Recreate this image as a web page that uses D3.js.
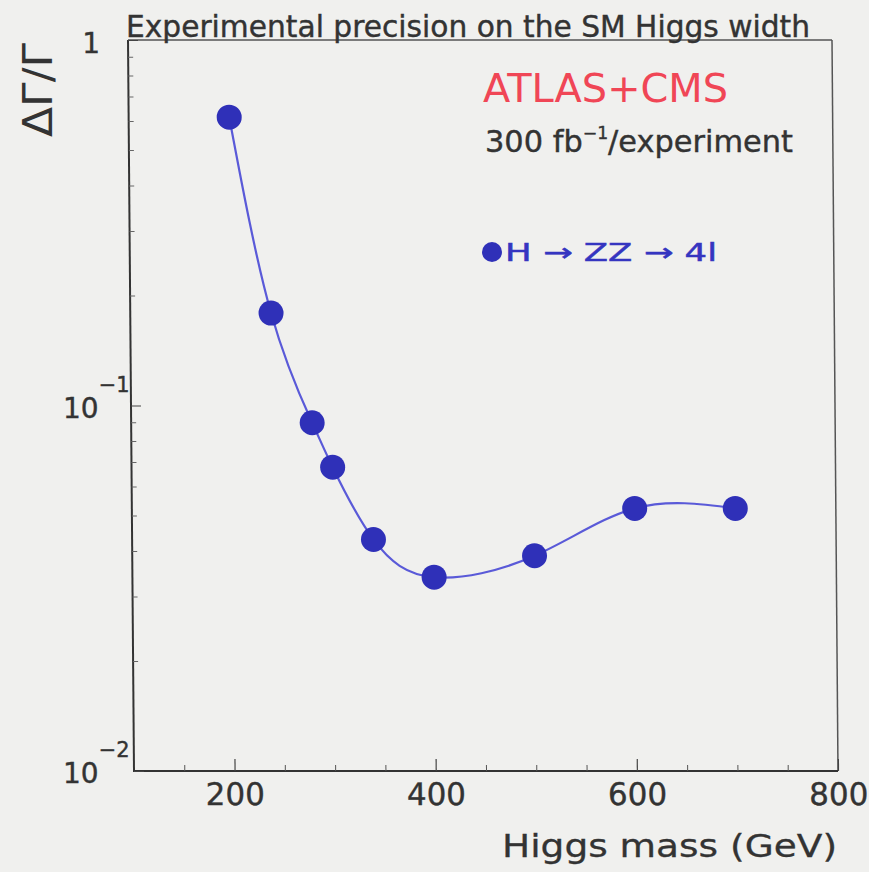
<!DOCTYPE html>
<html>
<head>
<meta charset="utf-8">
<script src="https://cdn.jsdelivr.net/npm/d3@7"></script>
<style>
body { margin: 0; background: #f0f0ee; }
svg { display: block; font-family: "DejaVu Sans", sans-serif; }
</style>
</head>
<body>
<svg id="chart" width="869" height="872"></svg>
<script>
// values
const masses = [200, 240, 280, 300, 340, 400, 500, 600, 700]
const relWidth = [0.615, 0.179, 0.0897, 0.0678, 0.0430, 0.0339, 0.0388, 0.0523, 0.0523]
const xMajor = [200, 400, 600, 800]
const xMinor = [150, 250, 300, 350, 450, 500, 550, 650, 700, 750]
const yMajor = [0.01, 0.1, 1]
const yLabelBase = ['10', '10', '1']
const yLabelExp = ['\u22122', '\u22121', '']

const data = masses.map((m, i) => ({ m: m, v: relWidth[i] }))

const plotLeft = 134, plotRight = 838, plotTop = 40, plotBottom = 771
const svg = d3.select('#chart')

const x = d3.scaleLinear().domain([100, 800]).range([plotLeft, plotRight])
const y = d3.scaleLog().domain([0.01, 1]).range([plotBottom, plotTop])

// the scan is slightly sheared, the top of the frame sits a few px left
const plot = svg.append('g')
    .attr('transform', `translate(0,${plotBottom}) skewX(0.47) translate(0,${-plotBottom})`)

// frame
plot.append('line').attr('x1', plotLeft).attr('x2', plotRight).attr('y1', plotTop).attr('y2', plotTop)
    .attr('stroke', '#555').attr('stroke-width', 1.5)
plot.append('line').attr('x1', plotRight).attr('x2', plotRight).attr('y1', plotTop).attr('y2', plotBottom)
    .attr('stroke', '#555').attr('stroke-width', 1.5)
plot.append('line').attr('x1', plotLeft).attr('x2', plotLeft).attr('y1', plotTop).attr('y2', plotBottom + 1)
    .attr('stroke', '#333').attr('stroke-width', 2)
plot.append('line').attr('x1', plotLeft).attr('x2', plotRight).attr('y1', plotBottom).attr('y2', plotBottom)
    .attr('stroke', '#333').attr('stroke-width', 2)

// x axis, ticks pointing in
const xAxis = d3.axisBottom(x).tickValues(xMajor).tickSizeInner(-12).tickSizeOuter(0).tickPadding(12)
const gx = plot.append('g').attr('transform', `translate(0,${plotBottom})`).call(xAxis)
gx.select('.domain').remove()
gx.selectAll('.tick line').attr('stroke', '#444').attr('stroke-width', 1.2)
gx.selectAll('.tick text').attr('font-size', 31).attr('fill', '#333')
    .attr('stroke', '#333').attr('stroke-width', 0.4)
    .attr('font-family', '"DejaVu Sans", sans-serif')

const gxm = plot.append('g').attr('transform', `translate(0,${plotBottom})`)
    .call(d3.axisBottom(x).tickValues(xMinor).tickSizeInner(-6).tickSizeOuter(0).tickFormat(''))
gxm.select('.domain').remove()
gxm.selectAll('.tick line').attr('stroke', '#555').attr('stroke-width', 1)

// y axis, log with minor ticks
const yMinor = y.ticks().filter(v => !yMajor.includes(v))
const gy = plot.append('g').attr('transform', `translate(${plotLeft},0)`)
    .call(d3.axisLeft(y).tickValues(yMajor).tickSizeInner(-10).tickSizeOuter(0).tickFormat(''))
gy.select('.domain').remove()
gy.selectAll('.tick line').attr('stroke', '#444').attr('stroke-width', 1.2)
const gym = plot.append('g').attr('transform', `translate(${plotLeft},0)`)
    .call(d3.axisLeft(y).tickValues(yMinor).tickSizeInner(-5).tickSizeOuter(0).tickFormat(''))
gym.select('.domain').remove()
gym.selectAll('.tick line').attr('stroke', '#666').attr('stroke-width', 1)

// curve and markers
const line = d3.line().x(d => x(d.m)).y(d => y(d.v)).curve(d3.curveNatural)
plot.append('path').datum(data).attr('d', line)
    .attr('fill', 'none').attr('stroke', '#5a5ad8').attr('stroke-width', 2.2)
plot.selectAll('circle.pt').data(data).enter().append('circle')
    .attr('class', 'pt')
    .attr('cx', d => x(d.m)).attr('cy', d => y(d.v)).attr('r', 12.5)
    .attr('fill', '#2f30b8')

// y tick labels (10^n style)
yMajor.forEach((v, i) => {
    const yy = y(v)
    if (yLabelExp[i] === '') {
        svg.append('text').attr('x', 100).attr('y', yy + 13).attr('text-anchor', 'end')
            .attr('font-size', 28).attr('fill', '#333').attr('stroke', '#333').attr('stroke-width', 0.4)
            .text(yLabelBase[i])
    } else {
        const t = svg.append('text').attr('x', 63).attr('y', yy + 12)
            .attr('font-size', 28).attr('fill', '#333').attr('stroke', '#333').attr('stroke-width', 0.4)
        t.append('tspan').text(yLabelBase[i])
        t.append('tspan').attr('dy', -26).attr('font-size', 21).text(yLabelExp[i])
    }
})

// axis titles
svg.append('text').attr('x', 837).attr('y', 857).attr('text-anchor', 'end')
    .attr('font-size', 32).attr('fill', '#333').attr('stroke', '#333').attr('stroke-width', 0.3)
    .attr('textLength', 335).attr('lengthAdjust', 'spacingAndGlyphs')
    .text('Higgs mass (GeV)')
svg.append('text').attr('transform', 'translate(52,90) rotate(-90)').attr('text-anchor', 'middle')
    .attr('font-size', 40).attr('fill', '#333')
    .attr('textLength', 94).attr('lengthAdjust', 'spacingAndGlyphs')
    .text('\u0394\u0393/\u0393')

// title and annotations
svg.append('text').attr('x', 126).attr('y', 37)
    .attr('font-size', 30).attr('fill', '#333').attr('stroke', '#333').attr('stroke-width', 0.4)
    .attr('textLength', 684).attr('lengthAdjust', 'spacingAndGlyphs')
    .text('Experimental precision on the SM Higgs width')
svg.append('text').attr('x', 483).attr('y', 102)
    .attr('font-size', 39).attr('fill', '#f04656')
    .attr('textLength', 245).attr('lengthAdjust', 'spacingAndGlyphs')
    .text('ATLAS+CMS')
const lumi = svg.append('text').attr('x', 485).attr('y', 152)
    .attr('font-size', 30).attr('fill', '#333').attr('stroke', '#333').attr('stroke-width', 0.4)
    .attr('textLength', 308).attr('lengthAdjust', 'spacingAndGlyphs')
lumi.append('tspan').text('300 fb')
lumi.append('tspan').attr('dy', -13).attr('font-size', 17).text('\u22121')
lumi.append('tspan').attr('dy', 13).text('/experiment')

// legend
svg.append('circle').attr('cx', 492).attr('cy', 252).attr('r', 10).attr('fill', '#2f30b8')
svg.append('text').attr('x', 505).attr('y', 261)
    .attr('font-size', 25).attr('fill', '#3535c0').attr('stroke', '#3535c0').attr('stroke-width', 0.5)
    .attr('textLength', 212).attr('lengthAdjust', 'spacingAndGlyphs')
    .text('H \u2192 ZZ \u2192 4l')
</script>
</body>
</html>
